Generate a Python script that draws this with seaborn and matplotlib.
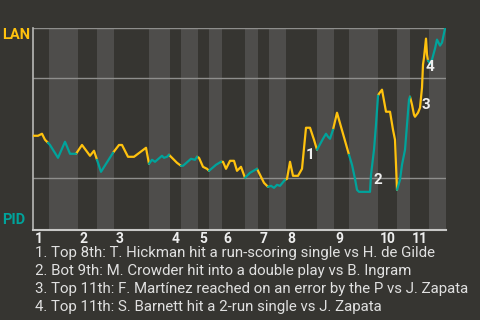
import matplotlib
matplotlib.use("Agg")
import matplotlib.pyplot as plt
import pandas as pd
import seaborn as sns

# ---- data ----
teams = ["LAN", "PID"]
team_colors = {"LAN": "#FFC20E", "PID": "#00A39B"}
inning_labels = ["1", "2", "3", "4", "5", "6", "7", "8", "9", "10", "11"]
# game-progress position where each half inning starts (last value = end of game)
half_starts = [0, 16, 45, 64, 81, 116, 137, 148, 165, 176, 189, 212, 225,
               236, 253, 284, 301, 316, 345, 364, 377, 396, 413]
# event positions and LAN win probability (%) for each half inning
event_x_by_half = [
    [0, 5, 9, 12, 15],
    [17, 25, 32, 37, 43],
    [49, 57, 61, 64],
    [68, 80],
    [86, 89, 95, 101, 113, 116],
    [119, 122, 129, 131, 134, 136],
    [144, 148],
    [150, 158, 162, 164],
    [166, 170, 174, 176],
    [183, 188],
    [190, 193, 197, 201, 204, 208, 212],
    [217, 224],
    [231, 235],
    [238, 241, 244, 247, 252],
    [254, 257, 260, 265, 269, 273, 277, 281, 284],
    [290, 293, 295, 297, 300],
    [304, 308, 312, 316],
    [319, 322, 324, 326, 337, 338, 341, 343, 345],
    [346, 349, 351, 353, 357, 360, 362, 364],
    [367, 369, 372, 374, 376, 377],
    [379, 381, 382, 385, 387, 389, 390, 391, 393, 394, 395],
    [397, 399, 402, 404, 407, 409, 412, 413],
]
lan_wp_by_half = [
    [46.2, 46.2, 47.2, 44.2, 42.7],
    [41.6, 35.2, 43.2, 37.2, 37.2],
    [41.6, 36.2, 38.7, 34.2],
    [28.2, 37.7],
    [41.6, 41.6, 35.7, 35.7, 40.2, 32.2],
    [34.2, 33.2, 36.2, 35.2, 35.7, 36.7],
    [32.7, 31.2],
    [31.2, 34.7, 34.2, 35.7],
    [35.2, 30.7, 29.7, 28.7],
    [31.7, 33.2],
    [33.2, 29.7, 33.7, 33.7, 28.7, 30.7, 25.2],
    [27.7, 29.7],
    [22.7, 20.7],
    [21.2, 20.2, 21.7, 21.2, 24.2],
    [24.7, 33.2, 26.2, 26.2, 29.7, 50.2, 50.2, 44.2, 39.2],
    [44.7, 47.2, 45.7, 44.7, 49.2],
    [57.7, 50.7, 43.7, 36.7],
    [31.7, 24.7, 19.2, 18.2, 18.2, 26.7, 39.2, 51.7, 66.2],
    [67.2, 69.2, 63.7, 58.2, 58.2, 49.2, 44.2, 19.2],
    [24.2, 31.7, 39.2, 51.7, 64.2, 65.7],
    [61.7, 56.7, 55.7, 57.7, 60.2, 70.2, 81.7, 85.2, 94.7, 86.7, 83.7],
    [82.2, 84.2, 89.7, 94.2, 91.2, 92.7, 99.7, 100.0],
]
marker_labels = ["1", "2", "3", "4"]
marker_x = [277, 345, 393, 397]
marker_wp = [36.5, 24.2, 61.7, 80.7]
notes = [
    "1. Top 8th: T. Hickman hit a run-scoring single vs H. de Gilde",
    "2. Bot 9th: M. Crowder hit into a double play vs B. Ingram",
    "3. Top 11th: F. Martínez reached on an error by the P vs J. Zapata",
    "4. Top 11th: S. Barnett hit a 2-run single vs J. Zapata",
]

# ---- build segments ----
rows = []
prev = None
for h, (xs, ws) in enumerate(zip(event_x_by_half, lan_wp_by_half)):
    team = teams[h % 2]
    pts = ([prev] if prev is not None else []) + list(zip(xs, ws))
    for x, w in pts:
        rows.append({"x": x, "wp": w, "team": team, "seg": h})
    prev = (xs[-1], ws[-1])
df = pd.DataFrame(rows)

# ---- style ----
bg = "#363531"
stripe = "#4e4d4b"
sns.set_style("dark", {"axes.facecolor": bg, "figure.facecolor": bg})
plt.rcParams["font.family"] = ["Roboto", "DejaVu Sans"]

fig = plt.figure(figsize=(4.8, 3.2), dpi=100)
ax = fig.add_axes([33 / 480, 1 - 230 / 320, 413 / 480, 202 / 320])
ax.set_facecolor(bg)

for h in range(1, len(half_starts) - 1, 2):
    ax.axvspan(half_starts[h], half_starts[h + 1], color=stripe, lw=0, zorder=0)

for yv in [100, 75, 25]:
    ax.axhline(yv, color="#8e8e8c", lw=1.0, zorder=1)

sns.lineplot(data=df, x="x", y="wp", hue="team", units="seg", estimator=None,
             sort=False, palette=team_colors, linewidth=1.6, legend=False,
             ax=ax, zorder=3)

for lab, mx, mw in zip(marker_labels, marker_x, marker_wp):
    ax.text(mx, mw, lab, ha="center", va="center", fontsize=11,
            fontweight="bold", color="#eeeeee", zorder=4)

ax.set_xlim(half_starts[0], half_starts[-1])
ax.set_ylim(-0.85, 100)
ax.set_xlabel("")
ax.set_ylabel("")
ax.set_yticks([])
top_starts = half_starts[0:-1:2]
ax.set_xticks([s + 1.5 for s in top_starts])
ax.set_xticklabels(inning_labels, fontsize=10, fontweight="bold", color="#eeeeee", ha="left")
ax.tick_params(axis="x", length=0, pad=1.5)
for side in ["top", "right"]:
    ax.spines[side].set_visible(False)
ax.spines["left"].set_color("#b8b8b6")
ax.spines["left"].set_linewidth(1.2)
ax.spines["bottom"].set_color("#c8c8c6")
ax.spines["bottom"].set_linewidth(1.5)
ax.grid(False)

fig.text(2 / 480, 1 - 28 / 320, teams[0], ha="left", va="top", fontsize=10.5,
         fontweight="bold", color=team_colors["LAN"])
fig.text(2 / 480, 1 - 224 / 320, teams[1], ha="left", va="baseline", fontsize=10.5,
         fontweight="bold", color=team_colors["PID"])

for i, note in enumerate(notes):
    fig.text(35 / 480, 1 - (257 + 18 * i) / 320, note, ha="left", va="baseline",
             fontsize=10.8, color="#e0e0e0")

fig.savefig("out.png", dpi=100, facecolor=bg)
